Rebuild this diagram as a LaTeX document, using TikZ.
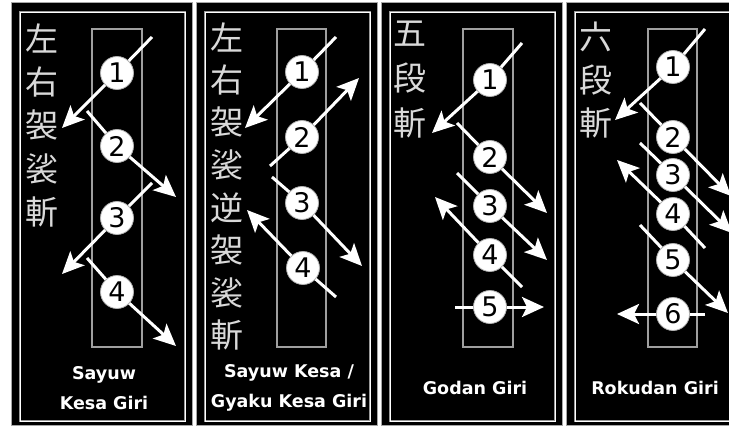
\documentclass[tikz,border=0pt]{standalone}
\usepackage{fontspec}
\newfontfamily\kanjifont{Noto Sans CJK JP}
\newfontfamily\labelfont{DejaVu Sans}
\usetikzlibrary{arrows.meta}

\begin{document}
\begin{tikzpicture}[x=1pt,y=-1pt,
    panel/.style={fill=black,draw=gray!70,line width=1pt},
    frame/.style={draw=gray!80,double=white,double distance=0.7pt,line width=0.5pt},
    track/.style={draw=gray!75,line width=1.4pt},
    cut/.style={draw=white,line width=3pt,-{Stealth[length=22pt,width=20pt,inset=5pt]}},
    num/.style={circle,fill=white,draw=gray!60,line width=0.8pt,minimum size=33pt,
                inner sep=0pt,font=\labelfont\fontsize{27}{27}\selectfont},
    kanji/.style={text=white!85!black,inner sep=0pt,font=\kanjifont\fontsize{33}{33}\selectfont},
    title/.style={text=white,align=center,font=\labelfont\bfseries\fontsize{17.5}{30}\selectfont}]

  \clip (0,0) rectangle (729,428);
  \fill[white] (0,0) rectangle (729,428);

  % Sayuw Kesa Giri
  \begin{scope}[xshift=11pt]
    \draw[panel] (0,3) rectangle (181,425);
    \draw[frame] (9,12) rectangle (174,421);
    \draw[track] (81,29) rectangle (131,347);
    \foreach \k [count=\i] in {左,右,袈,裟,斬}
      \node[kanji] (ka\i) at (31,{38+43.5*(\i-1)}) {\k};
    \foreach \n/\s/\c/\e in {1/{141,37}/{106,73}/{51,128},
                             2/{76,111}/{106,146}/{165,197},
                             3/{141,183}/{106,218}/{51,274},
                             4/{76,258}/{106,292}/{165,346}} {
      \coordinate (sa\n) at (\s);
      \coordinate (ea\n) at (\e);
      \draw[cut] (sa\n) -- (\c) -- (ea\n);
    }
    \foreach \n/\c in {1/{106,73},2/{106,146},3/{106,218},4/{106,292}}
      \node[num] (na\n) at (\c) {\n};
    \node[title] (ta) at (93,388) {Sayuw\\Kesa Giri};
  \end{scope}

  % Sayuw Kesa / Gyaku Kesa Giri
  \begin{scope}[xshift=196pt]
    \draw[panel] (0,3) rectangle (181,425);
    \draw[frame] (9,12) rectangle (174,421);
    \draw[track] (81,29) rectangle (130,347);
    \foreach \k [count=\i] in {左,右,袈,裟,逆,袈,裟,斬}
      \node[kanji] (kb\i) at (31,{37+42.6*(\i-1)}) {\k};
    \foreach \n/\s/\c/\e in {1/{140,37}/{106,72}/{49,128},
                             2/{74,166}/{106,137}/{163,78},
                             3/{76,177}/{106,203}/{166,266},
                             4/{140,297}/{107,268}/{51,210}} {
      \coordinate (sb\n) at (\s);
      \coordinate (eb\n) at (\e);
      \draw[cut] (sb\n) -- (\c) -- (eb\n);
    }
    \foreach \n/\c in {1/{106,72},2/{106,137},3/{106,203},4/{107,268}}
      \node[num] (nb\n) at (\c) {\n};
    \node[title] (tb) at (93,388) {Sayuw Kesa /\\Gyaku Kesa Giri};
  \end{scope}

  % Godan Giri
  \begin{scope}[xshift=381pt]
    \draw[panel] (0,3) rectangle (181,425);
    \draw[frame] (9,12) rectangle (174,421);
    \draw[track] (82,29) rectangle (132,347);
    \foreach \k [count=\i] in {五,段,斬}
      \node[kanji] (kc\i) at (29,{34+44.5*(\i-1)}) {\k};
    \foreach \n/\s/\c/\e in {1/{141,43}/{109,80}/{51,133},
                             2/{76,123}/{109,157}/{166,213},
                             3/{76,173}/{109,206}/{166,260},
                             4/{141,287}/{109,255}/{54,197},
                             5/{74,307}/{109,307}/{163,307}} {
      \coordinate (sc\n) at (\s);
      \coordinate (ec\n) at (\e);
      \draw[cut] (sc\n) -- (\c) -- (ec\n);
    }
    \foreach \n/\c in {1/{109,80},2/{109,157},3/{109,206},4/{109,255},5/{109,307}}
      \node[num] (nc\n) at (\c) {\n};
    \node[title] (tc) at (94,388) {Godan Giri};
  \end{scope}

  % Rokudan Giri
  \begin{scope}[xshift=566pt]
    \draw[panel] (0,3) rectangle (181,425);
    \draw[frame] (9,12) rectangle (174,421);
    \draw[track] (82,29) rectangle (131,347);
    \foreach \k [count=\i] in {六,段,斬}
      \node[kanji] (kd\i) at (30,{37+43*(\i-1)}) {\k};
    \foreach \n/\s/\c/\e in {1/{139,29}/{107,67}/{49,120},
                             2/{74,103}/{107,137}/{165,196},
                             3/{74,143}/{107,175}/{166,233},
                             4/{139,248}/{107,214}/{51,160},
                             5/{74,225}/{107,260}/{162,313},
                             6/{139,314}/{107,314}/{51,314}} {
      \coordinate (sd\n) at (\s);
      \coordinate (ed\n) at (\e);
      \draw[cut] (sd\n) -- (\c) -- (ed\n);
    }
    \foreach \n/\c in {1/{107,67},2/{107,137},3/{107,175},4/{107,214},5/{107,260},6/{107,314}}
      \node[num] (nd\n) at (\c) {\n};
    \node[title] (td) at (89,388) {Rokudan Giri};
  \end{scope}
\end{tikzpicture}
\end{document}
